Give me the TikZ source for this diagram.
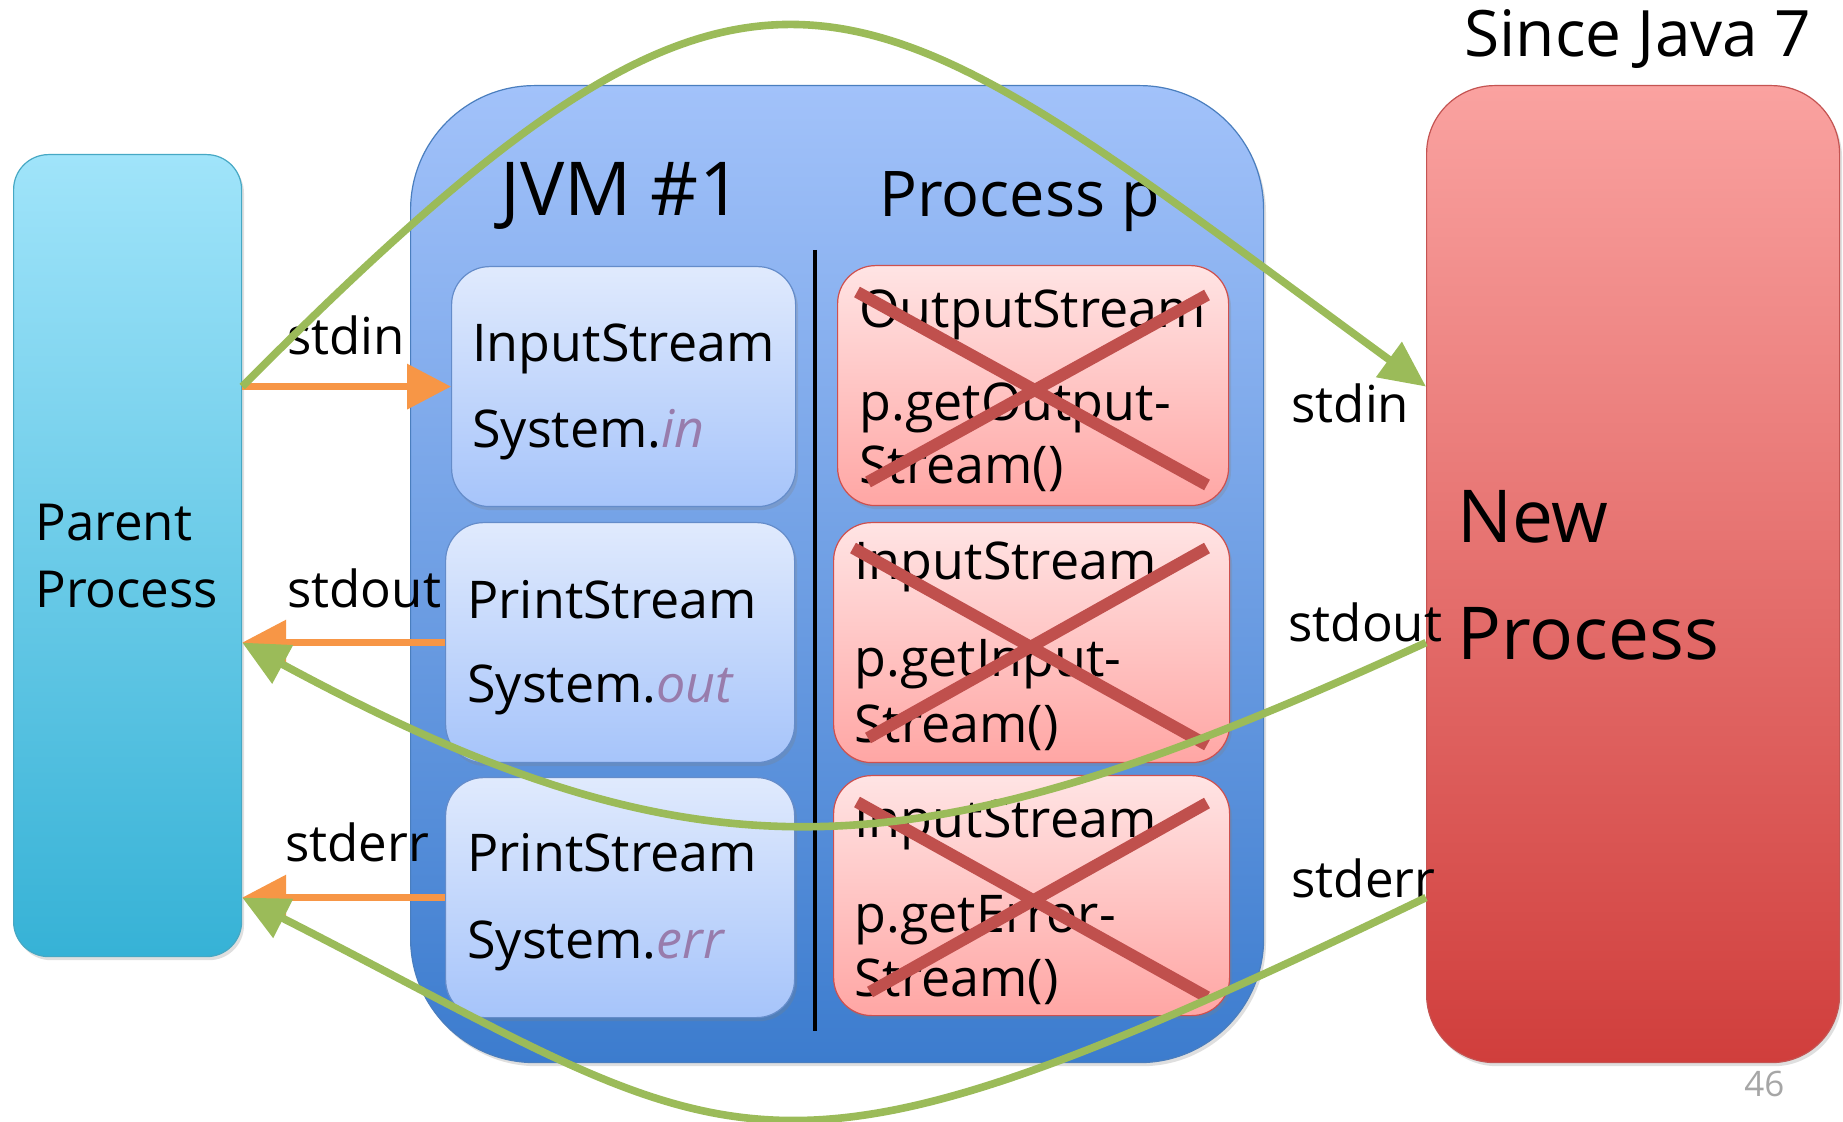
\documentclass[tikz,border=0pt]{standalone}
\usepackage{fontspec}
\setmainfont{Open Sans}
\usetikzlibrary{arrows.meta,calc,shadows}
\definecolor{parTop}{RGB}{160,228,250}
\definecolor{parBot}{RGB}{54,178,214}
\definecolor{parLine}{RGB}{70,168,196}
\definecolor{jvmTop}{RGB}{162,194,250}
\definecolor{jvmBot}{RGB}{60,124,206}
\definecolor{jvmLine}{RGB}{74,126,190}
\definecolor{newTop}{RGB}{250,162,160}
\definecolor{newBot}{RGB}{208,62,60}
\definecolor{newLine}{RGB}{196,84,82}
\definecolor{inTop}{RGB}{224,234,253}
\definecolor{inBot}{RGB}{166,196,250}
\definecolor{inLine}{RGB}{100,140,202}
\definecolor{pkTop}{RGB}{255,228,228}
\definecolor{pkBot}{RGB}{255,166,164}
\definecolor{pkLine}{RGB}{206,80,78}
\definecolor{crossRed}{RGB}{192,80,77}
\definecolor{arrOrange}{RGB}{247,150,70}
\definecolor{arrGreen}{RGB}{155,187,89}
\definecolor{purp}{RGB}{152,124,172}
\definecolor{pageGray}{RGB}{166,166,166}
\tikzset{
  bigbox/.style={draw, line width=0.6pt, anchor=north west, inner sep=0pt,
    drop shadow={shadow xshift=1.2pt, shadow yshift=-1.8pt, opacity=0.25}},
  parentbox/.style={bigbox, top color=parTop, bottom color=parBot, draw=parLine,
    rounded corners=17.5pt, minimum width=114pt, minimum height=401pt},
  jvmbox/.style={bigbox, top color=jvmTop, bottom color=jvmBot, draw=jvmLine,
    rounded corners=62pt, minimum width=426.5pt, minimum height=488.5pt},
  newbox/.style={bigbox, top color=newTop, bottom color=newBot, draw=newLine,
    rounded corners=34pt, minimum width=206.5pt, minimum height=488.5pt},
  streambox/.style={bigbox, top color=inTop, bottom color=inBot, draw=inLine,
    rounded corners=19pt, minimum height=120pt},
  pinkbox/.style={bigbox, top color=pkTop, bottom color=pkBot, draw=pkLine,
    rounded corners=19pt, minimum height=120pt},
  txt/.style={anchor=base west, inner sep=0pt, text=black},
  boxtxt/.style={txt, font=\fontsize{26}{30}\selectfont},
  lbl/.style={txt, font=\fontsize{25.5}{29}\selectfont},
  crossline/.style={draw=crossRed, line width=6pt},
  orangearrow/.style={draw=arrOrange, line width=3.5pt,
    -{Triangle[length=22pt, width=22pt]}},
  greenarrow/.style={draw=arrGreen, line width=3.8pt,
    -{Triangle[length=23pt, width=21pt]}},
}
\begin{document}
\begin{tikzpicture}[x=0.5pt, y=-0.5pt]
\useasboundingbox[fill=white] (0,0) rectangle (1843,1122);

% main boxes
\node[parentbox] (parent) at (13,154) {};
\node[jvmbox] (jvm) at (410,85) {};
\node[newbox] (newproc) at (1426,85) {};

% divider
\coordinate (divtop) at (815,250);
\coordinate (divbot) at (815,1031);
\draw[line width=1.6pt, black] (divtop) -- (divbot);

% stream boxes
\node[streambox, minimum width=172pt] (inbox) at (451,266) {};
\node[streambox, minimum width=174.5pt] (outbox) at (445,522) {};
\node[streambox, minimum width=174.5pt] (errbox) at (445,777) {};
\node[pinkbox, minimum width=195.5pt] (pk1) at (837,265) {};
\node[pinkbox, minimum width=198pt] (pk2) at (833,522) {};
\node[pinkbox, minimum width=198pt] (pk3) at (833,775) {};

% titles
\node[txt, font=\fontsize{32}{38}\selectfont] (since) at (1464,57) {Since Java 7};
\node[txt, font=\fontsize{37.2}{42}\selectfont] (jvmtitle) at (500,216) {JVM \#1};
\node[txt, font=\fontsize{31.5}{37}\selectfont] (proctitle) at (879,217) {Process p};
\node[lbl] (par1) at (35,541) {Parent};
\node[lbl] (par2) at (35,608) {Process};
\node[txt, font=\fontsize{36.5}{42}\selectfont] (new1) at (1457,543) {New};
\node[txt, font=\fontsize{36.5}{42}\selectfont] (new2) at (1457,660) {Process};

% stream box texts
\node[boxtxt] (t11) at (472,362) {InputStream};
\node[boxtxt] (t12) at (472,448) {System.{\itshape\color{purp}in}};
\node[boxtxt] (t21) at (467,619) {PrintStream};
\node[boxtxt] (t22) at (467,703) {System.{\itshape\color{purp}out}};
\node[boxtxt] (t31) at (467,871) {PrintStream};
\node[boxtxt] (t32) at (467,958) {System.{\itshape\color{purp}err}};

\node[boxtxt] (p11) at (859,328) {OutputStream};
\node[boxtxt] (p12) at (859,421) {p.getOutput-};
\node[boxtxt] (p13) at (859,484) {Stream()};
\node[boxtxt] (p21) at (854,580) {InputStream};
\node[boxtxt] (p22) at (854,677) {p.getInput-};
\node[boxtxt] (p23) at (854,743) {Stream()};
\node[boxtxt] (p31) at (854,837) {InputStream};
\node[boxtxt] (p32) at (854,932) {p.getError-};
\node[boxtxt] (p33) at (854,996) {Stream()};

% crosses
\draw[crossline] (857,292) -- (1207,485);
\draw[crossline] (1207,295) -- (868,482);
\draw[crossline] (853,548) -- (1207,745);
\draw[crossline] (1207,548) -- (868,738);
\draw[crossline] (857,802) -- (1207,997);
\draw[crossline] (1207,803) -- (870,992);

% orange arrows
\draw[orangearrow] (inbox.west -| parent.east) -- (inbox.west);
\draw[orangearrow] (outbox.west) -- (outbox.west -| parent.east);
\draw[orangearrow] (errbox.west) -- (errbox.west -| parent.east);

% labels
\node[lbl] (lin) at (287,355) {stdin};
\node[lbl] (lout) at (287,608) {stdout};
\node[lbl] (lerr) at (285,862) {stderr};
\node[lbl] (rin) at (1291,423) {stdin};
\node[lbl] (rout) at (1288,642) {stdout};
\node[lbl] (rerr) at (1291,897) {stderr};

% green curves
\draw[greenarrow] (inbox.west -| parent.east) .. controls (771,-146) and (848,-36) .. (inbox.west -| newproc.west);
\draw[greenarrow] (outbox.west -| newproc.west) .. controls (929,870) and (715,898) .. (outbox.west -| parent.east);
\draw[greenarrow] (errbox.west -| newproc.west) .. controls (746,1225) and (752,1157) .. (errbox.west -| parent.east);

\node[txt, text=pageGray, font=\fontsize{17.5}{20}\selectfont] (pagenum) at (1744,1096) {46};
\end{tikzpicture}
\end{document}
